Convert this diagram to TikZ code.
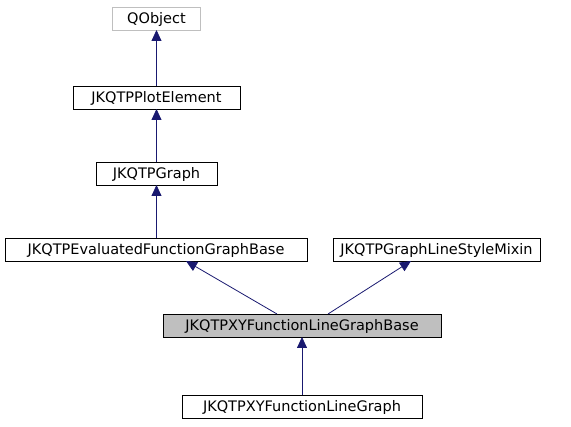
\documentclass[tikz,border=0pt]{standalone}
\usepackage{fontspec}
\setmainfont{DejaVu Sans}
\usetikzlibrary{arrows.meta,calc}
\definecolor{edgeblue}{HTML}{191970}
\definecolor{grayborder}{HTML}{BFBFBF}
\definecolor{grayfill}{HTML}{BFBFBF}
\begin{document}
\begin{tikzpicture}[x=1pt,y=-1pt,
  cls/.style={draw=black,line width=0.8pt,inner sep=0pt,outer sep=0pt,font=\fontsize{14.5}{17}\selectfont,text height=11pt,text depth=1.5pt,anchor=center},
  inherit/.style={draw=edgeblue,line width=0.8pt,-{Triangle[length=11pt,width=10pt]}}]
\useasboundingbox (0,0) rectangle (571,427);
\fill[white] (0,0) rectangle (571,427);
\node[cls,draw=grayborder,minimum width=88pt,minimum height=23pt] (qobj) at (156.5,18.5) {QObject};
\node[cls,minimum width=167pt,minimum height=23pt] (plot) at (156.5,97.5) {JKQTPPlotElement};
\node[cls,minimum width=121pt,minimum height=23pt] (graph) at (156.5,173.5) {JKQTPGraph};
\node[cls,minimum width=302pt,minimum height=23pt] (eval) at (156,249.5) {JKQTPEvaluatedFunctionGraphBase};
\node[cls,minimum width=207pt,minimum height=23pt] (mixin) at (436.5,249.5) {JKQTPGraphLineStyleMixin};
\node[cls,fill=grayfill,minimum width=278pt,minimum height=23pt] (xybase) at (302,325.5) {JKQTPXYFunctionLineGraphBase};
\node[cls,minimum width=240pt,minimum height=23pt] (xyg) at (302,406.5) {JKQTPXYFunctionLineGraph};
\coordinate (a1) at ($(xybase.north west)+(114,0)$);
\coordinate (a2) at ($(xybase.north west)+(165,0)$);
\coordinate (e1) at ($(eval.south west)+(181,0)$);
\coordinate (m1) at ($(mixin.south west)+(78,0)$);
\draw[inherit] (plot.north) -- (qobj.south);
\draw[inherit] (graph.north) -- (plot.south);
\draw[inherit] (eval.north -| graph.north) -- (graph.south);
\draw[inherit] (a1) -- (e1);
\draw[inherit] (a2) -- (m1);
\draw[inherit] (xyg.north) -- (xybase.south);
\end{tikzpicture}
\end{document}
